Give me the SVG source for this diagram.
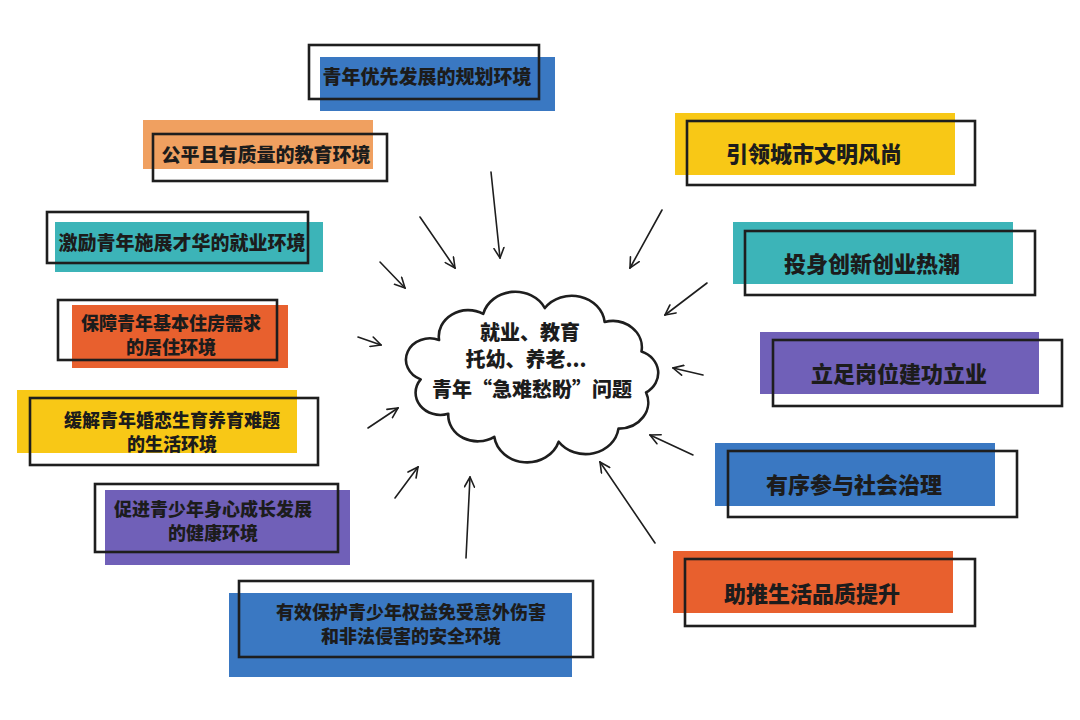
<svg xmlns="http://www.w3.org/2000/svg" width="1080" height="720" viewBox="0 0 1080 720">
<defs>
<style>
.t{font-family:"Noto Sans CJK SC","Noto Sans",sans-serif;font-weight:900;fill:#1c1c1c;text-anchor:middle;dominant-baseline:central}
.s{font-size:19px}
.m{font-size:18px}
.c{font-size:20px}
.l{font-size:22px}
.b{fill:none;stroke:#1e1e1e;stroke-width:2.6}
.blue{fill:#3a78c2}.peach{fill:#f0a060}.teal{fill:#3cb4b8}.red{fill:#e8602e}.yel{fill:#f8c816}.pur{fill:#7060b8}
.a{fill:none;stroke:#1e1e1e;stroke-width:1.6;stroke-linecap:round}
</style>
<marker id="ah" viewBox="0 0 12 12" refX="11" refY="6" markerWidth="12" markerHeight="12" markerUnits="userSpaceOnUse" orient="auto">
<path d="M1 1 L11 6 L1 11" fill="none" stroke="#1e1e1e" stroke-width="1.6" stroke-linecap="round"/>
</marker>
</defs>
<rect width="1080" height="720" fill="#ffffff"/>

<g id="connectors">
<line class="a" x1="491" y1="172" x2="500" y2="258" marker-end="url(#ah)"/>
<line class="a" x1="420" y1="217" x2="455" y2="268" marker-end="url(#ah)"/>
<line class="a" x1="380" y1="262" x2="405" y2="288" marker-end="url(#ah)"/>
<line class="a" x1="358" y1="337" x2="381" y2="345" marker-end="url(#ah)"/>
<line class="a" x1="368" y1="428" x2="398" y2="408" marker-end="url(#ah)"/>
<line class="a" x1="395" y1="498" x2="418" y2="467" marker-end="url(#ah)"/>
<line class="a" x1="466" y1="558" x2="470" y2="477" marker-end="url(#ah)"/>
<line class="a" x1="655" y1="543" x2="600" y2="462" marker-end="url(#ah)"/>
<line class="a" x1="693" y1="455" x2="650" y2="435" marker-end="url(#ah)"/>
<line class="a" x1="703" y1="375" x2="673" y2="368" marker-end="url(#ah)"/>
<line class="a" x1="707" y1="283" x2="665" y2="315" marker-end="url(#ah)"/>
<line class="a" x1="662" y1="210" x2="630" y2="268" marker-end="url(#ah)"/>
</g>

<g id="center">
<path transform="translate(532,372) scale(0.92,0.82) translate(-531,-371)" vector-effect="non-scaling-stroke" d="M 430 332 A 32 32 0 0 1 478 300 A 36 36 0 0 1 545 293 A 36 36 0 0 1 610 310 A 32 32 0 0 1 650 346 A 28 28 0 0 1 655 396 A 32 32 0 0 1 625 440 A 36 36 0 0 1 560 456 A 36 36 0 0 1 490 450 A 32 32 0 0 1 440 422 A 27 27 0 0 1 410 380 A 26 26 0 0 1 430 332 Z" fill="#ffffff" stroke="#1e1e1e" stroke-width="2.6" stroke-linejoin="round"/>
<text class="t c" x="530" y="331">就业、教育</text>
<text class="t c" x="526" y="358">托幼、养老...</text>
<text class="t c" x="532" y="388">青年“急难愁盼”问题</text>
</g>

<g id="n1">
<rect class="blue" x="320" y="57" width="235" height="54"/>
<rect class="b" x="309" y="45" width="230" height="54"/>
<text class="t s" x="427" y="75">青年优先发展的规划环境</text>
</g>
<g id="n2">
<rect class="peach" x="143" y="120" width="230" height="49"/>
<rect class="b" x="153" y="134" width="234" height="47"/>
<text class="t s" x="266" y="153">公平且有质量的教育环境</text>
</g>
<g id="n3">
<rect class="teal" x="55" y="222" width="268" height="50"/>
<rect class="b" x="47" y="212" width="261" height="51"/>
<text class="t s" x="182" y="241">激励青年施展才华的就业环境</text>
</g>
<g id="n4">
<rect class="red" x="72" y="305" width="216" height="63"/>
<rect class="b" x="58" y="300" width="219" height="60"/>
<text class="t m" x="171" y="322">保障青年基本住房需求</text>
<text class="t m" x="171" y="346">的居住环境</text>
</g>
<g id="n5">
<rect class="yel" x="17" y="390" width="280" height="63"/>
<rect class="b" x="30" y="398" width="288" height="67"/>
<text class="t m" x="172" y="419">缓解青年婚恋生育养育难题</text>
<text class="t m" x="172" y="443">的生活环境</text>
</g>
<g id="n6">
<rect class="pur" x="105" y="490" width="245" height="75"/>
<rect class="b" x="95" y="484" width="243" height="68"/>
<text class="t m" x="213" y="508">促进青少年身心成长发展</text>
<text class="t m" x="213" y="532">的健康环境</text>
</g>
<g id="n7">
<rect class="blue" x="229" y="593" width="343" height="84"/>
<rect class="b" x="239" y="581" width="354" height="76"/>
<text class="t m" x="411" y="611">有效保护青少年权益免受意外伤害</text>
<text class="t m" x="411" y="635">和非法侵害的安全环境</text>
</g>

<g id="r1">
<rect class="yel" x="675" y="113" width="280" height="62"/>
<rect class="b" x="687" y="121" width="288" height="64"/>
<text class="t l" x="814" y="152">引领城市文明风尚</text>
</g>
<g id="r2">
<rect class="teal" x="733" y="222" width="280" height="62"/>
<rect class="b" x="745" y="231" width="290" height="64"/>
<text class="t l" x="872" y="262">投身创新创业热潮</text>
</g>
<g id="r3">
<rect class="pur" x="760" y="332" width="279" height="62"/>
<rect class="b" x="773" y="340" width="289" height="66"/>
<text class="t l" x="899" y="372">立足岗位建功立业</text>
</g>
<g id="r4">
<rect class="blue" x="715" y="443" width="280" height="63"/>
<rect class="b" x="728" y="451" width="289" height="66"/>
<text class="t l" x="854" y="483">有序参与社会治理</text>
</g>
<g id="r5">
<rect class="red" x="673" y="551" width="280" height="62"/>
<rect class="b" x="685" y="559" width="290" height="67"/>
<text class="t l" x="812" y="592">助推生活品质提升</text>
</g>
</svg>
